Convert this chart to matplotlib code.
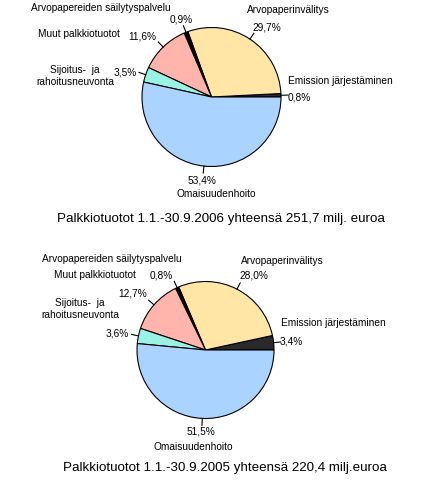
import numpy as np
import matplotlib.pyplot as plt

# order: counterclockwise from 3 o'clock
categories = ["Emission järjestäminen", "Arvopaperinvälitys",
              "Arvopapereiden säilytyspalvelu", "Muut palkkiotuotot",
              "Sijoitus-  ja\nrahoitusneuvonta", "Omaisuudenhoito"]
values_2006 = [0.8, 29.7, 0.9, 11.6, 3.5, 53.4]
values_2005 = [3.4, 28.0, 0.8, 12.7, 3.6, 51.5]
pct_2006 = ["0,8%", "29,7%", "0,9%", "11,6%", "3,5%", "53,4%"]
pct_2005 = ["3,4%", "28,0%", "0,8%", "12,7%", "3,6%", "51,5%"]
title_2006 = "Palkkiotuotot 1.1.-30.9.2006 yhteensä 251,7 milj. euroa"
title_2005 = "Palkkiotuotot 1.1.-30.9.2005 yhteensä 220,4 milj.euroa"

colors = ["#2a2a2a", "#ffe6a6", "#000000", "#ffb4ac", "#99f2e3", "#aad4ff"]

W, H = 430, 499
plt.rcParams['font.family'] = ['Liberation Sans', 'DejaVu Sans']

fig = plt.figure(figsize=(W / 100, H / 100), dpi=100)
ax = fig.add_axes([0, 0, 1, 1])

# layout in pixels from top-left
charts = [
    dict(vals=values_2006, pcts=pct_2006, title=title_2006,
         c=(211.5, 97), r=69.5, title_xy=(221, 219),
         pct_xy=[(299, 97), (267, 27.5), (181.5, 19.5), (142, 36), (125.5, 72), (202, 180)],
         name_xy=[(340, 81), (288, 10), (101, 7.5), (79, 34), (75, 76), (216, 194)]),
    dict(vals=values_2005, pcts=pct_2005, title=title_2005,
         c=(205.5, 350), r=68.5, title_xy=(224.5, 468),
         pct_xy=[(291.5, 341), (253.5, 275.5), (161, 275), (133, 294), (117, 333), (201, 431.5)],
         name_xy=[(333, 322.5), (282, 261), (112, 259), (95, 275), (80, 309), (193, 446.5)]),
]

for ch in charts:
    cx, cy = ch['c']
    cy = H - cy
    r = ch['r']
    wedges, _ = ax.pie(ch['vals'], colors=colors, startangle=0, counterclock=True,
                       center=(cx, cy), radius=r, normalize=True,
                       wedgeprops=dict(edgecolor='black', linewidth=0.8))
    for w, p, n, pxy, nxy in zip(wedges, ch['pcts'], categories,
                                 ch['pct_xy'], ch['name_xy']):
        a = np.deg2rad((w.theta1 + w.theta2) / 2)
        x0, y0 = cx + r * np.cos(a), cy + r * np.sin(a)
        x1, y1 = cx + (r + 7) * np.cos(a), cy + (r + 7) * np.sin(a)
        ax.plot([x0, x1], [y0, y1], color='black', lw=0.8)
        ax.text(pxy[0], H - pxy[1], p, fontsize=7.3, ha='center', va='center')
        ax.text(nxy[0], H - nxy[1], n, fontsize=7.3, ha='center', va='center',
                linespacing=1.3)
    ax.text(ch['title_xy'][0], H - ch['title_xy'][1], ch['title'],
            fontsize=9.6, ha='center', va='center')

ax.set_xlim(0, W)
ax.set_ylim(0, H)
ax.set_aspect('equal')
ax.axis('off')

fig.savefig('out.png', dpi=100, facecolor='white')
